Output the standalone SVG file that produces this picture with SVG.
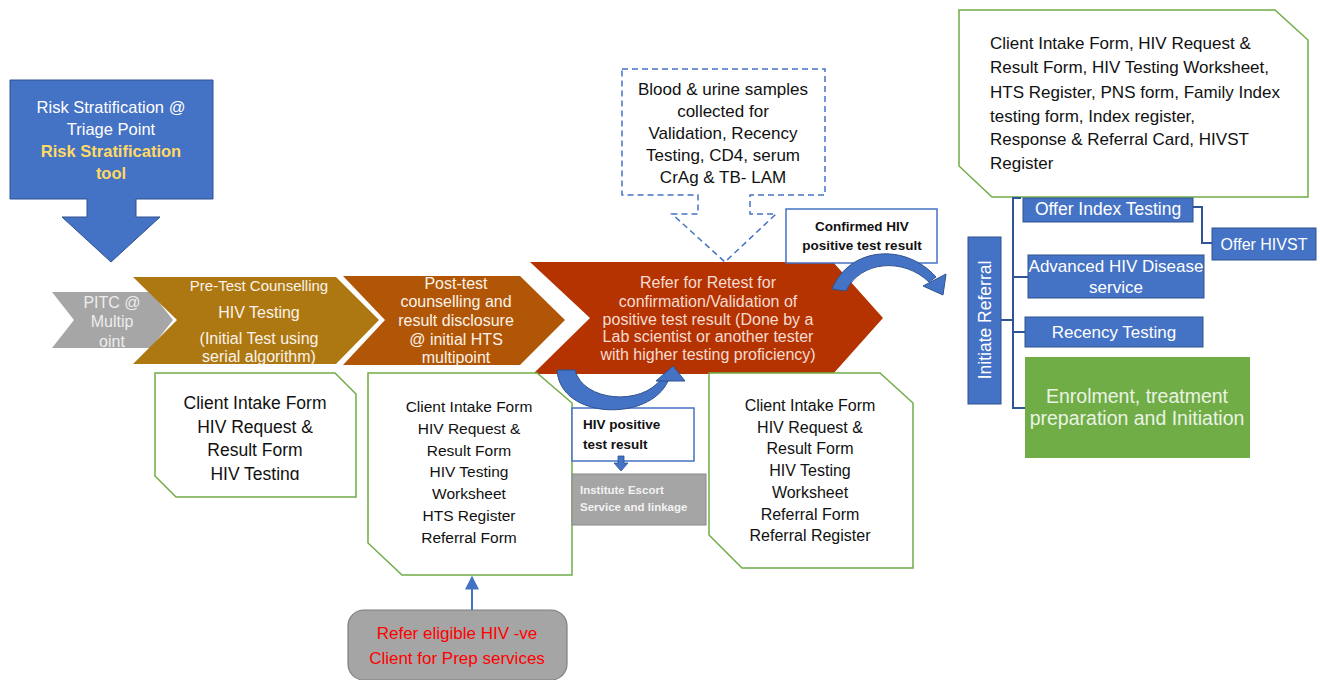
<svg xmlns="http://www.w3.org/2000/svg" width="1320" height="680" viewBox="0 0 1320 680">
<defs>
<style>
text{font-family:"Liberation Sans",Arial,sans-serif;}
.c{text-anchor:middle;}
.form{fill:#fff;stroke:#70AD47;stroke-width:1.5;}
.blk{fill:#111;}
.wt{fill:#FBF3EA;}
.bluebox{fill:#4472C4;stroke:#2F528F;stroke-width:1;}
.br{fill:none;stroke:#2F5597;stroke-width:2;}
.ah{fill:#4472C4;stroke:#2F528F;stroke-width:1;}
</style>
<clipPath id="clip1"><rect x="150" y="370" width="220" height="110"/></clipPath>
<clipPath id="clip2"><rect x="360" y="370" width="220" height="185"/></clipPath>
<marker id="arr" viewBox="0 0 10 10" refX="9" refY="5" markerWidth="7" markerHeight="7" orient="auto"><path d="M0,0 L10,5 L0,10 z" fill="#4472C4"/></marker>
</defs>
<rect width="1320" height="680" fill="#fff"/>

<g id="risk">
<path d="M10,80 H213 V199 H136 V217 H160 L111,262 L62,217 H87 V199 H10 Z" fill="#4472C4" stroke="#2F528F" stroke-width="1"/>
<text class="c" x="111" y="113" font-size="16.5" fill="#fff">Risk Stratification @</text>
<text class="c" x="111" y="135" font-size="16.5" fill="#fff">Triage Point</text>
<text class="c" x="111" y="157" font-size="16.5" font-weight="bold" fill="#FFD966">Risk Stratification</text>
<text class="c" x="111" y="179" font-size="16.5" font-weight="bold" fill="#FFD966">tool</text>
</g>

<g id="pitc">
<path d="M52,292 H151 L173,320 L151,348 H52 L74,320 Z" fill="#A6A6A6"/>
<text class="c" x="112" y="308" font-size="16" fill="#EDEDED">PITC @</text>
<text class="c" x="112" y="327" font-size="16" fill="#EDEDED">Multip</text>
<text class="c" x="112" y="347" font-size="16" fill="#EDEDED">oint</text>
</g>

<g id="pretest">
<path d="M133,277 H336 L379,320 L336,364 H133 L177,320 Z" fill="#AD7812"/>
<text class="c wt" x="259" y="291" font-size="15">Pre-Test Counselling</text>
<text class="c wt" x="259" y="318" font-size="16">HIV Testing</text>
<text class="c wt" x="259" y="344" font-size="16">(Initial Test using</text>
<text class="c wt" x="259" y="362" font-size="16">serial algorithm)</text>
</g>

<g id="posttest">
<path d="M343,276 H520 L565,320 L520,365 H343 L385,320 Z" fill="#B15606"/>
<text class="c wt" x="456" y="289" font-size="16">Post-test</text>
<text class="c wt" x="456" y="307" font-size="16">counselling and</text>
<text class="c wt" x="456" y="326" font-size="16">result disclosure</text>
<text class="c wt" x="456" y="345" font-size="16">@ initial HTS</text>
<text class="c wt" x="456" y="363" font-size="16">multipoint</text>
</g>

<g id="retest">
<path d="M530,262 H833 L883,318 L833,374 H533 L590,318 Z" fill="#B53301"/>
<text class="c" x="708" y="288" font-size="16" fill="#F6DCD2">Refer for Retest for</text>
<text class="c" x="708" y="307" font-size="16" fill="#F6DCD2">confirmation/Validation of</text>
<text class="c" x="708" y="325" font-size="16" fill="#F6DCD2">positive test result (Done by a</text>
<text class="c" x="708" y="342" font-size="16" fill="#F6DCD2">Lab scientist or another tester</text>
<text class="c" x="708" y="360" font-size="16" fill="#F6DCD2">with higher testing proficiency)</text>
</g>

<g id="forms1">
<path class="form" d="M155,373 H335 L356,394 V497 H176 L155,476 Z"/>
<g clip-path="url(#clip1)">
<text class="c blk" x="255" y="409" font-size="17.5">Client Intake Form</text>
<text class="c blk" x="255" y="433" font-size="17.5">HIV Request &amp;</text>
<text class="c blk" x="255" y="456" font-size="17.5">Result Form</text>
<text class="c blk" x="255" y="480" font-size="17.5">HIV Testing</text>
</g>
</g>

<g id="forms2">
<path class="form" d="M368,373 H537 L572,403 V575 H402 L368,543 Z"/>
<g clip-path="url(#clip2)">
<text class="c blk" x="469" y="412" font-size="15.5">Client Intake Form</text>
<text class="c blk" x="469" y="434" font-size="15.5">HIV Request &amp;</text>
<text class="c blk" x="469" y="456" font-size="15.5">Result Form</text>
<text class="c blk" x="469" y="477" font-size="15.5">HIV Testing</text>
<text class="c blk" x="469" y="499" font-size="15.5">Worksheet</text>
<text class="c blk" x="469" y="521" font-size="15.5">HTS Register</text>
<text class="c blk" x="469" y="543" font-size="15.5">Referral Form</text>
</g>
</g>

<g id="forms3">
<path class="form" d="M709,373 H880 L913,403 V568 H742 L709,535 Z"/>
<text class="c blk" x="810" y="411" font-size="16">Client Intake Form</text>
<text class="c blk" x="810" y="433" font-size="16">HIV Request &amp;</text>
<text class="c blk" x="810" y="454" font-size="16">Result Form</text>
<text class="c blk" x="810" y="476" font-size="16">HIV Testing</text>
<text class="c blk" x="810" y="498" font-size="16">Worksheet</text>
<text class="c blk" x="810" y="520" font-size="16">Referral Form</text>
<text class="c blk" x="810" y="541" font-size="16">Referral Register</text>
</g>

<g id="hivpos">
<rect x="572" y="408" width="122" height="53" fill="#fff" stroke="#4472C4" stroke-width="1.5"/>
<text x="583" y="429" font-size="13.5" font-weight="bold" fill="#111">HIV positive</text>
<text x="583" y="449" font-size="13.5" font-weight="bold" fill="#111">test result</text>
</g>

<g id="escort">
<rect x="572" y="474" width="134" height="51" fill="#A5A5A5" stroke="#8A8A8A" stroke-width="1"/>
<text x="580" y="494" font-size="11.5" font-weight="bold" fill="#F2F2F2">Institute Escort</text>
<text x="580" y="511" font-size="11.5" font-weight="bold" fill="#F2F2F2">Service and linkage</text>
</g>

<g id="samples">
<path d="M622,69 H825 V195 H750 V214 H776 L725,262 L672,214 H698 V195 H622 Z" fill="#fff" stroke="#4472C4" stroke-width="1.5" stroke-dasharray="6,4"/>
<text class="c blk" x="723" y="95" font-size="17">Blood &amp; urine samples</text>
<text class="c blk" x="723" y="117" font-size="17">collected for</text>
<text class="c blk" x="723" y="139" font-size="17">Validation, Recency</text>
<text class="c blk" x="723" y="161" font-size="17">Testing, CD4, serum</text>
<text class="c blk" x="723" y="183" font-size="17">CrAg &amp; TB- LAM</text>
</g>

<g id="confirmed">
<rect x="786" y="209" width="151" height="54" fill="#fff" stroke="#4472C4" stroke-width="1.5"/>
<text class="c" x="862" y="231" font-size="13.5" font-weight="bold" fill="#111">Confirmed HIV</text>
<text class="c" x="862" y="250" font-size="13.5" font-weight="bold" fill="#111">positive test result</text>
</g>

<g id="documents">
<path class="form" d="M959,10 H1275 L1308,40 V197 H992 L959,166 Z"/>
<text x="990" y="49" font-size="17" fill="#111">Client Intake Form, HIV Request &amp;</text>
<text x="990" y="73" font-size="17" fill="#111">Result Form, HIV Testing Worksheet,</text>
<text x="990" y="98" font-size="17" fill="#111">HTS Register, PNS form, Family Index</text>
<text x="990" y="122" font-size="17" fill="#111">testing form, Index register,</text>
<text x="990" y="145" font-size="17" fill="#111">Response &amp; Referral Card, HIVST</text>
<text x="990" y="169" font-size="17" fill="#111">Register</text>
</g>

<g id="initiate">
<rect class="bluebox" x="968" y="237" width="33" height="167"/>
<text class="c" transform="translate(991,320) rotate(-90)" x="0" y="0" font-size="17.5" fill="#fff">Initiate Referral</text>
</g>

<g id="index">
<rect class="bluebox" x="1023" y="198" width="170" height="24"/>
<text class="c" x="1108" y="215" font-size="17.5" fill="#fff">Offer Index Testing</text>
</g>

<g id="hivst">
<rect class="bluebox" x="1212" y="228" width="104" height="32"/>
<text class="c" x="1264" y="250" font-size="16" fill="#fff">Offer HIVST</text>
</g>

<g id="ahd">
<rect class="bluebox" x="1028" y="255" width="176" height="43"/>
<text class="c" x="1116" y="272" font-size="17" fill="#fff">Advanced HIV Disease</text>
<text class="c" x="1116" y="293" font-size="17" fill="#fff">service</text>
</g>

<g id="recency">
<rect class="bluebox" x="1025" y="317" width="178" height="30"/>
<text class="c" x="1114" y="338" font-size="17" fill="#fff">Recency Testing</text>
</g>

<g id="enrolment">
<rect x="1025" y="357" width="225" height="101" fill="#70AD47"/>
<text class="c" x="1137" y="403" font-size="19.5" fill="#EAF3E3">Enrolment, treatment</text>
<text class="c" x="1137" y="425" font-size="19.5" fill="#EAF3E3">preparation and Initiation</text>
</g>

<g id="prep">
<rect x="348" y="610" width="219" height="70" rx="16" fill="#A5A5A5" stroke="#7F7F7F" stroke-width="1.2"/>
<text class="c" x="457" y="639" font-size="17" fill="#FF0000">Refer eligible HIV -ve</text>
<text class="c" x="457" y="664" font-size="17" fill="#FF0000">Client for Prep services</text>
</g>

<g id="connectors">
<path class="br" d="M1001,320 H1013 M1021,198 H1013 V408 H1025 M1013,277 H1028 M1013,332 H1025 M1193,207 H1202 V243 H1212"/>
<line x1="472" y1="610" x2="472" y2="577" stroke="#4472C4" stroke-width="2" marker-end="url(#arr)"/>
<path d="M618,456 V463 H614 L621,471 L628,463 H624 V456 Z" fill="#4472C4" stroke="#2F528F" stroke-width="0.8"/>
<path d="M557,370 C560,420 650,422 668,381 L661,379 C642,406 583,402 575,370 Z" fill="#4472C4" stroke="#2F528F" stroke-width="1"/>
<path class="ah" d="M673,366 L685,381 L656,381 Z"/>
<path d="M832,289 C850,246 906,243 936,277 L929,282 C903,257 860,261 846,291 Z" fill="#4472C4" stroke="#2F528F" stroke-width="1"/>
<path class="ah" d="M943,295 L923,286 L946,274 Z"/>
</g>
</svg>
